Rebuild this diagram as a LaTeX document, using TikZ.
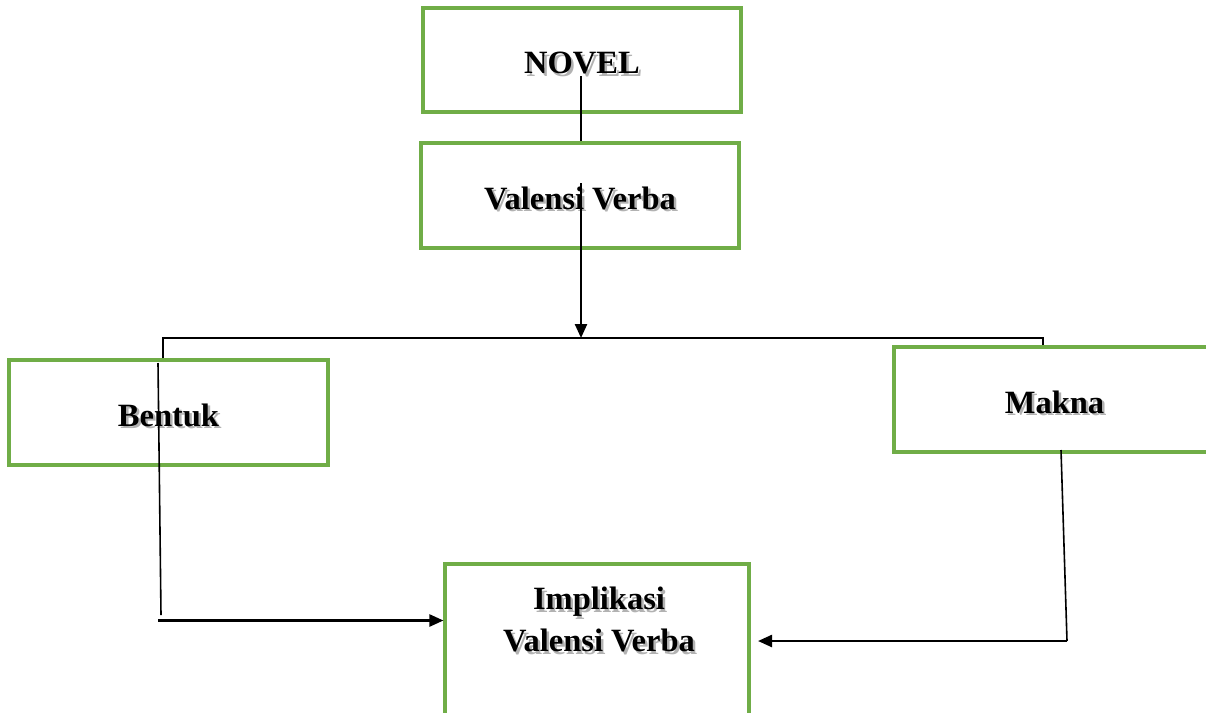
\documentclass[tikz,border=0pt]{standalone}
\usepackage{fontspec}
\setmainfont{Liberation Serif}
\usetikzlibrary{arrows.meta}
\definecolor{boxgreen}{HTML}{70AD47}
\newcommand\shtxt[1]{\makebox[0pt][l]{\hspace{2.5pt}\raisebox{-2.5pt}{\textcolor{black!30}{#1}}}#1}
\begin{document}
\begin{tikzpicture}[x=1pt,y=-1pt,
  box/.style={draw=boxgreen,line width=3.1pt,inner sep=0pt,fill=white,
    text height=27pt,text depth=0pt,
    font=\fontsize{32.5}{38}\selectfont\bfseries},
  lbl/.style={inner sep=0pt,align=center,font=\fontsize{32.5}{42}\selectfont\bfseries},
  conn/.style={line width=2.4pt,black},
  thin/.style={line width=1.6pt,black},
  arr/.style={-{Triangle[length=14pt,width=12pt]}}]
\useasboundingbox (0,0) rectangle (1206,712);
\fill[white] (0,0) rectangle (1206,712);
\node[box,minimum width=318pt,minimum height=104pt] (novel) at (582,60) {\shtxt{NOVEL}};
\node[box,minimum width=318pt,minimum height=105pt] (valensi) at (580,195.5) {\shtxt{Valensi Verba}};
\node[box,minimum width=319pt,minimum height=105pt] (bentuk) at (168.5,412.5) {\shtxt{Bentuk}};
\node[box,minimum width=321pt,minimum height=105pt] (makna) at (1054.5,399.5) {\shtxt{Makna}};
\node[box,minimum width=304pt,minimum height=160pt] (impl) at (597,644) {};
\node[lbl] (impltxt) at (599,621) {\shtxt{Implikasi}\\\shtxt{Valensi Verba}};
% connectors
\coordinate (n1) at (581,76);
\coordinate (v1) at (581,183);
\coordinate (j) at (581,338);
\coordinate (bl) at (163,338);
\coordinate (br) at (1043,338);
\coordinate (b1) at (158,363);
\coordinate (b2) at (161,615);
\coordinate (b3) at (158,620.5);
\coordinate (m1) at (1061,450);
\coordinate (m2) at (1067,641);
\coordinate (m3) at (758,641);
\draw[conn] (n1) -- (n1 |- valensi.north);
\draw[conn,arr] (v1) -- (j);
\draw[line width=2.8pt] (bentuk.north -| bl) -- (bl) -- (br) -- (br |- makna.north);
\draw[thin] (b1) -- (b2);
\draw[conn,arr] (b3) -- (impl.west |- b3);
\draw[thin] (m1) -- (m2);
\draw[conn,arr] (m2) -- (m3);
\end{tikzpicture}
\end{document}
